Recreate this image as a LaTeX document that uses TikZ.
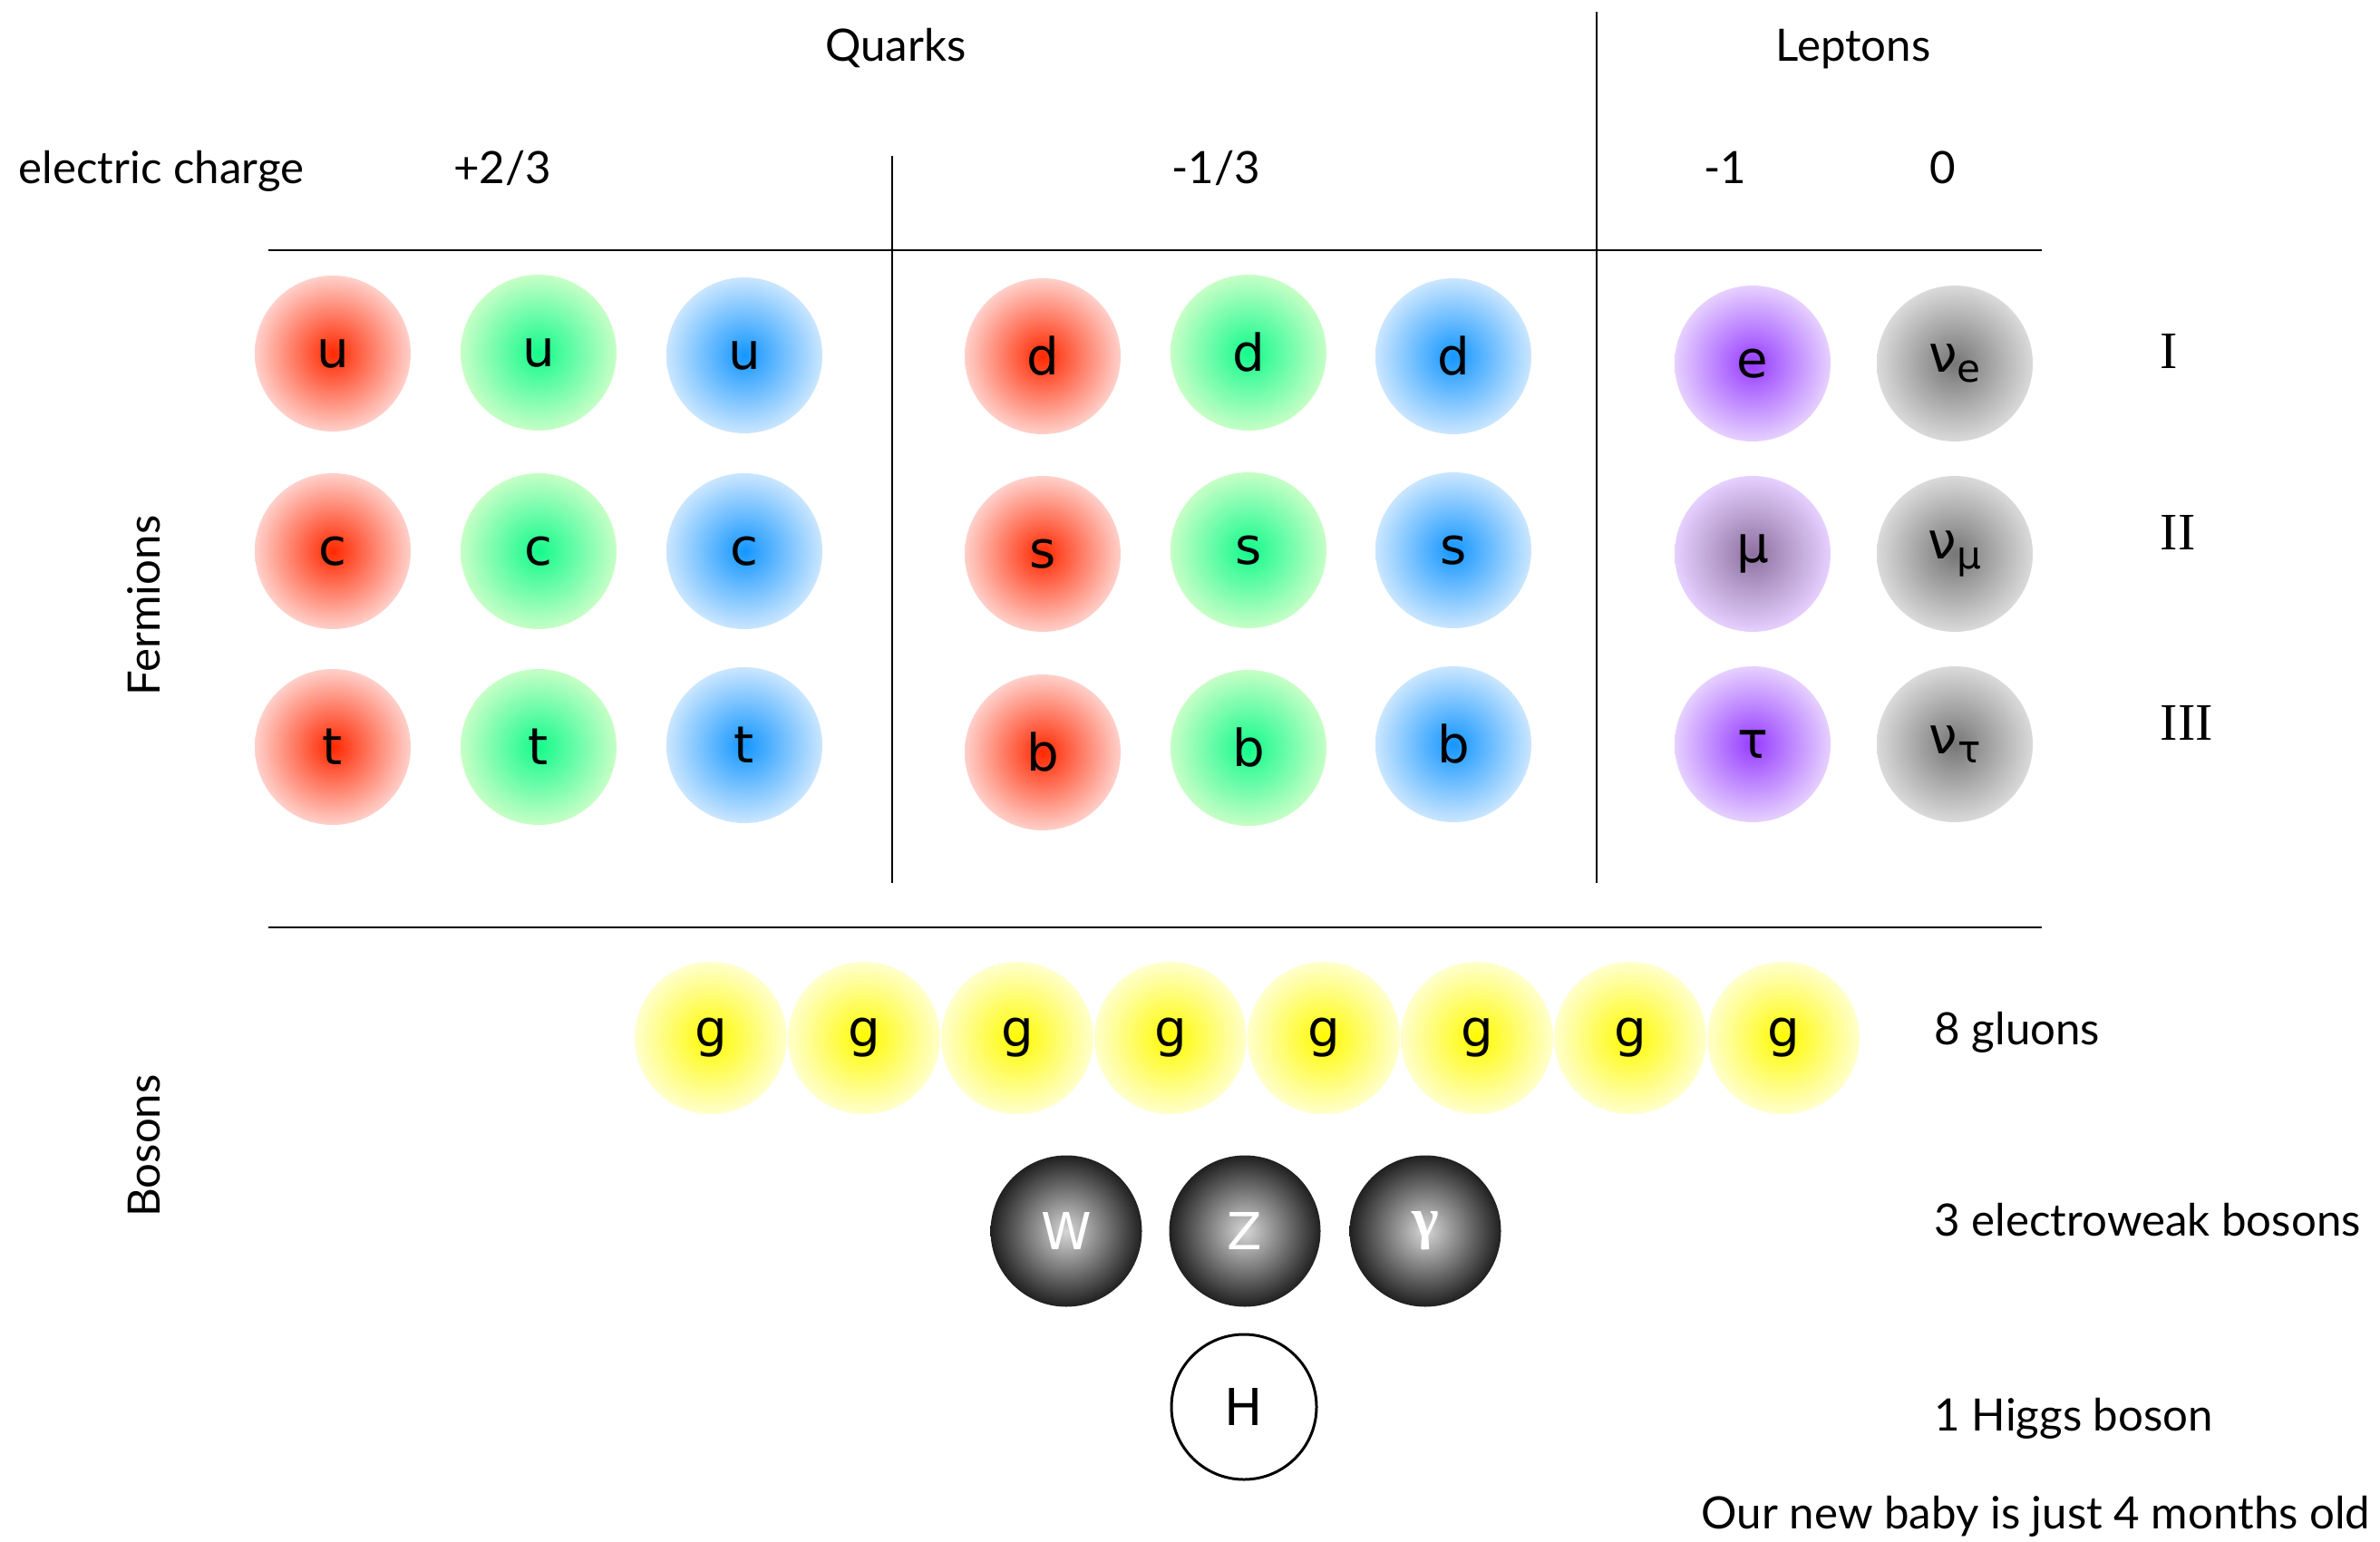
\documentclass[tikz,border=0pt]{standalone}
\usepackage{fontspec}
\setmainfont{Lato}
\newfontfamily\partfont{DejaVu Sans}
\newfontfamily\numfont{Liberation Serif}
\definecolor{redcore}{RGB}{255,40,0}
\definecolor{redrim}{RGB}{255,208,202}
\definecolor{greencore}{RGB}{20,250,140}
\definecolor{greenrim}{RGB}{198,255,198}
\definecolor{bluecore}{RGB}{20,150,255}
\definecolor{bluerim}{RGB}{202,230,255}
\definecolor{lepcore}{RGB}{150,60,255}
\definecolor{muoncore}{RGB}{140,112,160}
\definecolor{leprim}{RGB}{230,208,255}
\definecolor{nucore}{RGB}{118,118,118}
\definecolor{nurim}{RGB}{218,218,218}
\definecolor{gluoncore}{RGB}{255,250,0}
\definecolor{gluonrim}{RGB}{255,255,205}
\definecolor{ewcore}{RGB}{215,215,215}
\definecolor{ewrim}{RGB}{32,32,32}
\newcommand\nusub[1]{\raisebox{-0.35ex}{\fontsize{12pt}{12pt}\selectfont #1}}
\begin{document}
\begin{tikzpicture}[every node/.style={inner sep=0pt,font=\fontsize{14pt}{16pt}\selectfont},
  ball/.style={circle,minimum size=1.72cm,font=\partfont\fontsize{16pt}{18pt}\selectfont},
  red ball/.style={ball,inner color=redcore,outer color=redrim},
  green ball/.style={ball,inner color=greencore,outer color=greenrim},
  blue ball/.style={ball,inner color=bluecore,outer color=bluerim},
  lepton/.style={ball,inner color=lepcore,outer color=leprim},
  neutrino/.style={ball,inner color=nucore,outer color=nurim},
  gluon/.style={ball,minimum size=1.68cm,inner color=gluoncore,outer color=gluonrim},
  ewboson/.style={ball,minimum size=1.67cm,inner color=ewcore,outer color=ewrim,text=white},
  gen/.style={anchor=base west,font=\numfont\fontsize{16.5pt}{18pt}\selectfont},
  hrule/.style={line width=0.75pt},
  vrule/.style={line width=0.6pt}]
\useasboundingbox (0,0) rectangle (26.25,-17.01);
% headings
\node[anchor=base] (quarks) at (9.88,-0.68) {Quarks};
\node[anchor=base] (leptons) at (20.44,-0.68) {Leptons};
\node[anchor=base west] (charge) at (0.20,-2.03) {electric charge};
\node[anchor=base] (up_q) at (5.54,-2.03) {+2/3};
\node[anchor=base] (down_q) at (13.41,-2.03) {-1/3};
\node[anchor=base] (lep_q) at (19.03,-2.03) {-1};
\node[anchor=base] (nu_q) at (21.43,-2.03) {0};
\draw[hrule] (2.96,-2.76) -- (22.52,-2.76);
\draw[hrule] (2.96,-10.23) -- (22.52,-10.23);
\draw[vrule] (9.84,-1.72) -- (9.84,-9.74);
\draw[vrule] (17.61,-0.13) -- (17.61,-9.74);
\node[rotate=90] (ferm) at (1.59,-6.68) {Fermions};
\node[rotate=90] (bos) at (1.59,-12.64) {Bosons};
% quarks
\node[red ball] (u_r) at (3.67,-3.90) {u};
\node[green ball] (u_g) at (5.94,-3.89) {u};
\node[blue ball] (u_b) at (8.21,-3.92) {u};
\node[red ball] (d_r) at (11.50,-3.93) {d};
\node[green ball] (d_g) at (13.77,-3.89) {d};
\node[blue ball] (d_b) at (16.03,-3.93) {d};
\node[red ball] (c_r) at (3.67,-6.08) {c};
\node[green ball] (c_g) at (5.94,-6.08) {c};
\node[blue ball] (c_b) at (8.21,-6.08) {c};
\node[red ball] (s_r) at (11.50,-6.11) {s};
\node[green ball] (s_g) at (13.77,-6.07) {s};
\node[blue ball] (s_b) at (16.03,-6.07) {s};
\node[red ball] (t_r) at (3.67,-8.24) {t};
\node[green ball] (t_g) at (5.94,-8.24) {t};
\node[blue ball] (t_b) at (8.21,-8.22) {t};
\node[red ball] (b_r) at (11.50,-8.30) {b};
\node[green ball] (b_g) at (13.77,-8.25) {b};
\node[blue ball] (b_b) at (16.03,-8.21) {b};
% leptons
\node[lepton] (elec) at (19.33,-4.01) {e};
\node[neutrino] (nu_e) at (21.56,-4.01) {ν\nusub{e}};
\node[lepton,inner color=muoncore] (muon) at (19.33,-6.11) {μ};
\node[neutrino] (nu_mu) at (21.56,-6.11) {ν\nusub{μ}};
\node[lepton] (tau) at (19.33,-8.21) {τ};
\node[neutrino] (nu_tau) at (21.56,-8.21) {ν\nusub{τ}};
\node[gen] (gen1) at (23.82,-4.07) {I};
\node[gen] (gen2) at (23.82,-6.06) {II};
\node[gen] (gen3) at (23.82,-8.16) {III};
% bosons
\node[gluon] (g1) at (7.84,-11.45) {g};
\node[gluon] (g2) at (9.53,-11.45) {g};
\node[gluon] (g3) at (11.22,-11.45) {g};
\node[gluon] (g4) at (12.91,-11.45) {g};
\node[gluon] (g5) at (14.60,-11.45) {g};
\node[gluon] (g6) at (16.29,-11.45) {g};
\node[gluon] (g7) at (17.98,-11.45) {g};
\node[gluon] (g8) at (19.67,-11.45) {g};
\node[ewboson] (wbos) at (11.76,-13.58) {W};
\node[ewboson] (zbos) at (13.73,-13.58) {Z};
\node[ewboson,font=\numfont\bfseries\fontsize{18pt}{18pt}\selectfont] (photon) at (15.72,-13.58) {γ};
\node[ball,draw,line width=0.85pt,minimum size=1.60cm] (higgs) at (13.72,-15.52) {H};
\node[anchor=base west] (glu_lbl) at (21.33,-11.52) {8 gluons};
\node[anchor=base west] (ew_lbl) at (21.33,-13.63) {3 electroweak bosons};
\node[anchor=base west] (h_lbl) at (21.33,-15.78) {1 Higgs boson};
\node[anchor=base east] (baby) at (26.15,-16.86) {Our new baby is just 4 months old};
\end{tikzpicture}
\end{document}
